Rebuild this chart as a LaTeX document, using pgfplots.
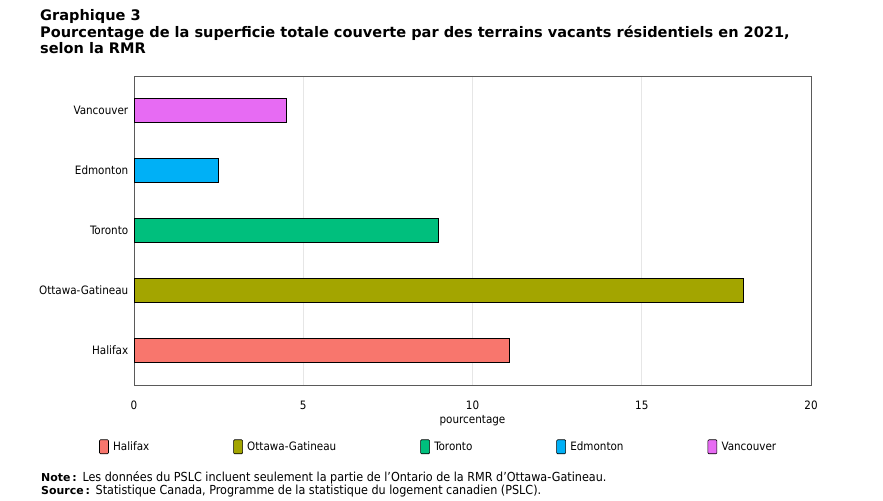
\documentclass[border=0pt]{standalone}
\usepackage{pgfplots}
\pgfplotsset{compat=1.18}
\usepackage{fontspec}
\setmainfont{DejaVu Sans Condensed}
\newfontfamily\widefont{DejaVu Sans}

\definecolor{cHal}{RGB}{248,118,109}
\definecolor{cOtt}{RGB}{163,165,0}
\definecolor{cTor}{RGB}{0,191,125}
\definecolor{cEdm}{RGB}{0,176,246}
\definecolor{cVan}{RGB}{231,107,243}
\definecolor{frameGray}{RGB}{90,90,90}
\definecolor{gridGray}{RGB}{230,230,230}

\begin{document}
\begin{tikzpicture}[x=1bp,y=1bp]
\path[use as bounding box] (0,0) rectangle (883,501);

% title
\begin{scope}[every node/.style={anchor=base west,inner sep=0pt,font=\widefont\bfseries\fontsize{14.6}{16}\selectfont}]
\node at (40,480) {Graphique 3};
\node at (40,463.5) {Pourcentage de la superficie totale couverte par des terrains vacants résidentiels en 2021,};
\node at (40,447) {selon la RMR};
\end{scope}

\begin{axis}[
  at={(134bp,116bp)}, anchor=south west,
  width=677bp, height=309bp, scale only axis,
  xmin=0, xmax=20,
  ymin=-0.58, ymax=4.58,
  xtick={0,5,10,15,20},
  ytick={0,1,2,3,4},
  yticklabels={Halifax,Ottawa-Gatineau,Toronto,Edmonton,Vancouver},
  tick style={draw=none},
  xmajorgrids, grid style={gridGray, line width=0.6pt},
  axis line style={frameGray, line width=0.9pt},
  /pgf/number format/assume math mode=true,
  ticklabel style={font=\fontsize{11.6}{13}\selectfont},
  xticklabel style={yshift=-12.5bp},
  yticklabel style={xshift=2bp},
  xlabel={pourcentage},
  xlabel style={font=\fontsize{11.6}{13}\selectfont, yshift=1bp},
  xbar, bar shift=0pt, bar width=0.4,
  every axis plot/.append style={draw=black, line width=1.3pt},
  legend columns=5,
  legend style={at={(-0.0517,-0.2)}, anchor=west, draw=none, fill=none,
    inner sep=0pt,
    font=\fontsize{11.6}{13}\selectfont,
    /tikz/every even column/.append style={column sep=82bp}},
  legend image code/.code={\draw[#1, line width=0.6pt, rounded corners=1pt] (0bp,-7bp) rectangle (9bp,7bp); \path (11bp,0bp);},
]
\addplot[fill=cHal, draw=black] coordinates {(11.1,0)};
\addlegendentry{Halifax}
\addplot[fill=cOtt, draw=black] coordinates {(18.0,1)};
\addlegendentry{Ottawa-Gatineau}
\addplot[fill=cTor, draw=black] coordinates {(9.0,2)};
\addlegendentry{Toronto}
\addplot[fill=cEdm, draw=black] coordinates {(2.5,3)};
\addlegendentry{Edmonton}
\addplot[fill=cVan, draw=black] coordinates {(4.5,4)};
\addlegendentry{Vancouver}
\end{axis}

% notes
\begin{scope}[every node/.style={anchor=base west,inner sep=0pt,font=\fontsize{12.5}{13}\selectfont}]
\node at (41,19) {{\widefont\bfseries\fontsize{11}{13}\selectfont Note\,:}\hspace{1pt} Les données du PSLC incluent seulement la partie de l’Ontario de la RMR d’Ottawa-Gatineau.};
\node at (41,6) {{\widefont\bfseries\fontsize{11}{13}\selectfont Source\,:}\hspace{1pt} Statistique Canada, Programme de la statistique du logement canadien (PSLC).};
\end{scope}
\end{tikzpicture}
\end{document}
